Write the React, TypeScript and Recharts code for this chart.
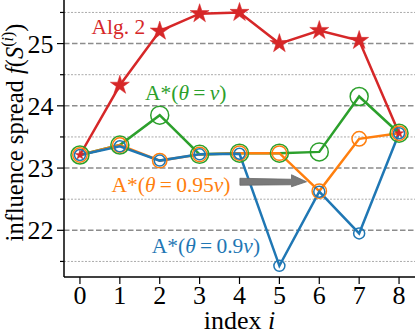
import React from "react";
import {
  LineChart,
  Line,
  XAxis,
  YAxis,
  ReferenceLine,
  ReferenceDot,
} from "recharts";

const FONT = '"Liberation Serif", "Times New Roman", serif';

const indices = [0, 1, 2, 3, 4, 5, 6, 7, 8];
const alg2 = [23.21, 24.33, 25.2, 25.48, 25.5, 25.0, 25.21, 25.05, 23.56];
const aStarV = [23.21, 23.37, 23.85, 23.22, 23.24, 23.24, 23.26, 24.15, 23.56];
const aStar095 = [23.21, 23.37, 23.12, 23.22, 23.24, 23.24, 22.63, 23.47, 23.56];
const aStar09 = [23.21, 23.35, 23.12, 23.22, 23.23, 21.43, 22.62, 21.95, 23.56];

const yMajor = [22, 23, 24, 25];
const yMinor = [21.5, 22.5, 23.5, 24.5, 25.5];
const yTicks = [...yMinor, ...yMajor].sort((a, b) => a - b);

const RED = "#d62728";
const GREEN = "#2ca02c";
const ORANGE = "#ff7f0e";
const BLUE = "#1f77b4";

const data = indices.map((i, k) => ({
  i,
  alg2: alg2[k],
  v: aStarV[k],
  v095: aStar095[k],
  v09: aStar09[k],
}));

function Star(props: any) {
  const { cx, cy, index } = props;
  if (cx == null || cy == null) return null;
  const end = index === 0 || index === indices.length - 1;
  const R = end ? 5 : 10;
  const r = R * 0.382;
  const pts: string[] = [];
  for (let k = 0; k < 10; k++) {
    const a = -Math.PI / 2 + (k * Math.PI) / 5;
    const rr = k % 2 === 0 ? R : r;
    pts.push(`${cx + rr * Math.cos(a)},${cy + rr * Math.sin(a)}`);
  }
  return <polygon key={`s${index}`} points={pts.join(" ")} fill={RED} stroke={RED} strokeWidth={0.5} />;
}

function YTick({ x, y, payload }: any) {
  const major = Number.isInteger(payload.value);
  return (
    <g>
      <line x1={x - (major ? 7 : 4)} x2={x} y1={y} y2={y} stroke="#000" strokeWidth={1.2} />
      {major && (
        <text x={x - 10.5} y={y} dy="0.35em" textAnchor="end" fontSize={26} fontFamily={FONT} fill="#000">
          {payload.value}
        </text>
      )}
    </g>
  );
}

function XTick({ x, y, payload }: any) {
  return (
    <g>
      <line x1={x} x2={x} y1={y} y2={y + 7} stroke="#000" strokeWidth={1.2} />
      <text x={x} y={y + 27} textAnchor="middle" fontSize={26} fontFamily={FONT} fill="#000">
        {payload.value}
      </text>
    </g>
  );
}

const XLabel = ({ viewBox }: any) => (
  <text
    x={viewBox.x + viewBox.width / 2}
    y={viewBox.y + 52}
    textAnchor="middle"
    fontSize={26}
    fontFamily={FONT}
    fill="#000"
  >
    index <tspan fontStyle="italic">i</tspan>
  </text>
);

const YLabel = ({ viewBox }: any) => {
  const x = viewBox.x + 23;
  const y = viewBox.y + viewBox.height / 2 - 6;
  return (
    <text
      x={x}
      y={y}
      transform={`rotate(-90, ${x}, ${y})`}
      textAnchor="middle"
      fontSize={24.5}
      fontFamily={FONT}
      fill="#000"
    >
      influence spread{"\u00A0"}
      <tspan fontStyle="italic">f</tspan>(<tspan fontStyle="italic">S</tspan>
      <tspan fontSize={16} dy={-10}>(</tspan>
      <tspan fontSize={16} fontStyle="italic">i</tspan>
      <tspan fontSize={16}>)</tspan>
      <tspan dy={10}>)</tspan>
    </text>
  );
};

function Note({ color, children }: any) {
  return (props: any) => (
    <text x={props.cx} y={props.cy} fontSize={21.5} fontFamily={FONT} fill={color}>
      {children}
    </text>
  );
}

const eq = "\u2009=\u2009";

function Arrow(props: any) {
  const { x1, y1, x2 } = props;
  const head = 15;
  const hx = x2 - head;
  const pts = [
    [x1, y1 - 3.5],
    [hx, y1 - 2.5],
    [hx, y1 - 7],
    [x2, y1],
    [hx, y1 + 5],
    [hx, y1 + 3],
    [x1, y1 + 3.5],
  ]
    .map((p) => p.join(","))
    .join(" ");
  return <polygon points={pts} fill="#7a7a7a" stroke="#6a6a6a" strokeWidth={0.8} />;
}

export default function App() {
  return (
    <div style={{ position: "absolute", left: 0, top: 0, background: "#fff" }}>
      <LineChart width={415} height={336} data={data} margin={{ top: 0, right: 0, bottom: 0, left: 0 }}>
        {yMinor.map((v) => (
          <ReferenceLine key={`mi${v}`} y={v} stroke="#aaaaaa" strokeWidth={1} strokeDasharray="2 1.5" />
        ))}
        {yMajor.map((v) => (
          <ReferenceLine key={`ma${v}`} y={v} stroke="#8c8c8c" strokeWidth={1.5} strokeDasharray="5.5 2.5" />
        ))}
        <XAxis
          dataKey="i"
          type="number"
          domain={[-0.4, 8.4]}
          ticks={indices}
          interval={0}
          height={59}
          tickSize={0}
          tickMargin={0}
          tickLine={false}
          tick={<XTick />}
          axisLine={{ stroke: "#000", strokeWidth: 1.5 }}
          label={{ content: XLabel }}
        />
        <YAxis
          type="number"
          domain={[21.25, 25.7]}
          ticks={yTicks}
          interval={0}
          width={64}
          tickSize={0}
          tickMargin={0}
          tickLine={false}
          tick={<YTick />}
          axisLine={{ stroke: "#000", strokeWidth: 1.5 }}
          allowDataOverflow
          label={{ content: YLabel }}
        />
        <Line dataKey="alg2" stroke={RED} strokeWidth={2.5} dot={Star} activeDot={false} isAnimationActive={false} />
        <Line
          dataKey="v"
          stroke={GREEN}
          strokeWidth={2.5}
          dot={{ r: 9, fill: "none", stroke: GREEN, strokeWidth: 1.5 }}
          activeDot={false}
          isAnimationActive={false}
        />
        <Line
          dataKey="v095"
          stroke={ORANGE}
          strokeWidth={2.5}
          dot={{ r: 7.2, fill: "none", stroke: ORANGE, strokeWidth: 1.5 }}
          activeDot={false}
          isAnimationActive={false}
        />
        <Line
          dataKey="v09"
          stroke={BLUE}
          strokeWidth={2.5}
          dot={{ r: 5.5, fill: "none", stroke: BLUE, strokeWidth: 1.5 }}
          activeDot={false}
          isAnimationActive={false}
        />
        <ReferenceLine
          segment={[
            { x: 4.01, y: 22.78 },
            { x: 5.68, y: 22.78 },
          ]}
          shape={Arrow}
        />
        <ReferenceDot x={0.29} y={25.15} r={0} shape={Note({ color: RED, children: "Alg. 2" })} />
        <ReferenceDot
          x={1.63}
          y={24.09}
          r={0}
          shape={Note({
            color: GREEN,
            children: (
              <>
                A*(<tspan fontStyle="italic">θ</tspan>
                {eq}
                <tspan fontStyle="italic">v</tspan>)
              </>
            ),
          })}
        />
        <ReferenceDot
          x={0.79}
          y={22.62}
          r={0}
          shape={Note({
            color: ORANGE,
            children: (
              <>
                A*(<tspan fontStyle="italic">θ</tspan>
                {eq}0.95<tspan fontStyle="italic">v</tspan>)
              </>
            ),
          })}
        />
        <ReferenceDot
          x={1.8}
          y={21.63}
          r={0}
          shape={Note({
            color: BLUE,
            children: (
              <>
                A*(<tspan fontStyle="italic">θ</tspan>
                {eq}0.9<tspan fontStyle="italic">v</tspan>)
              </>
            ),
          })}
        />
      </LineChart>
    </div>
  );
}
